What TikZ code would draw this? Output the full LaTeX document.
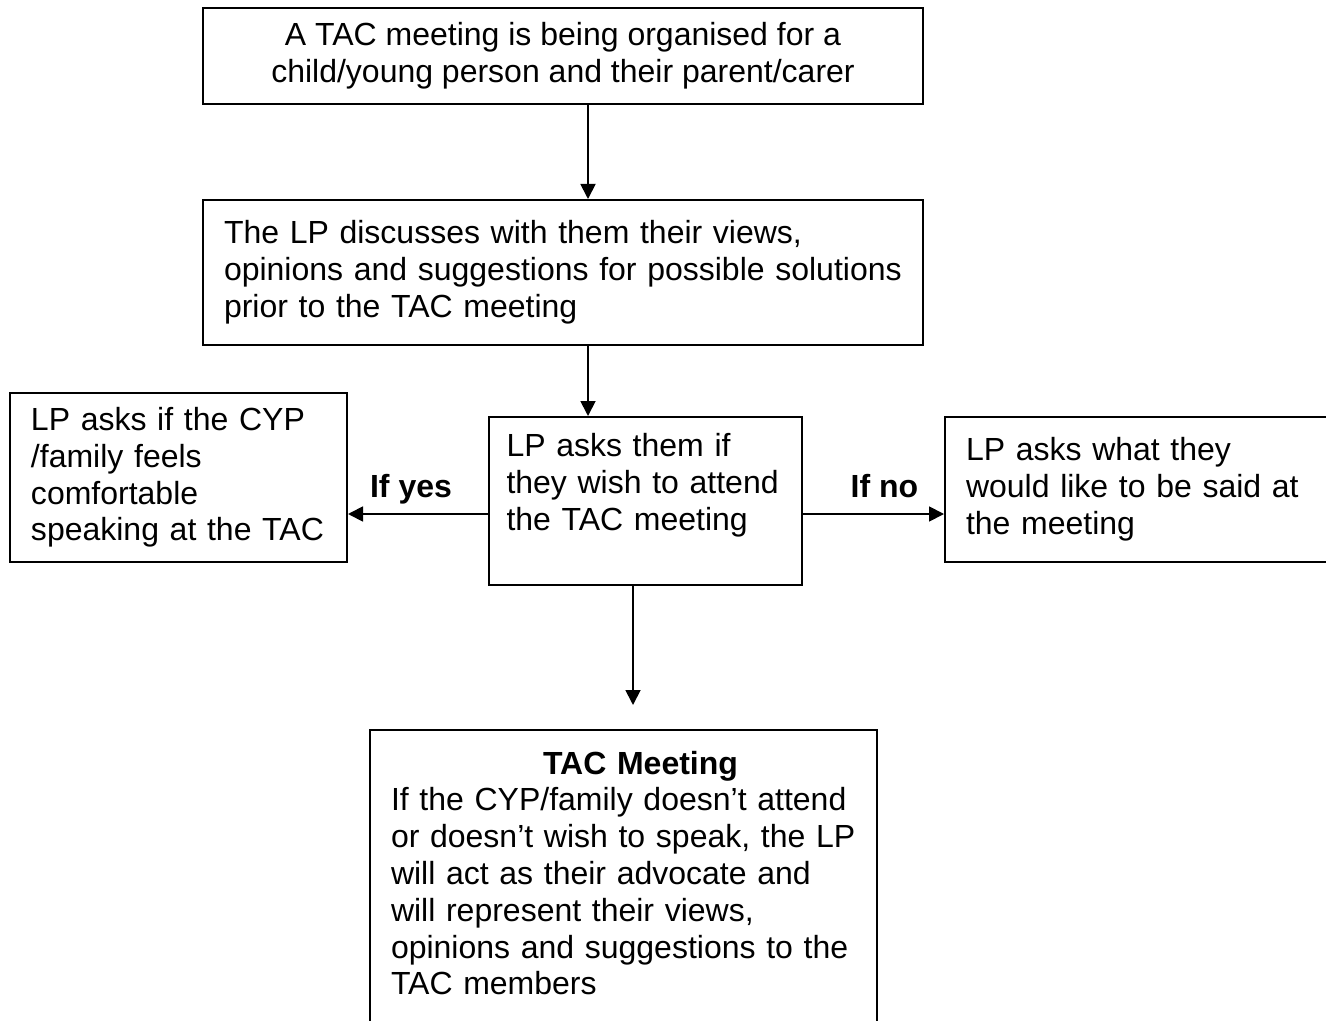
\documentclass[tikz,border=0pt]{standalone}
\usepackage{fontspec}
\setmainfont{Liberation Sans}
\usetikzlibrary{arrows.meta, positioning}

\begin{document}
\begin{tikzpicture}[
        x=0.5pt, y=-0.5pt,
        every node/.style={font=\fontsize{16}{18.4}\selectfont},
        box/.style={draw, line width=1pt, inner xsep=10.5pt, inner ysep=0pt, align=left},
        flow/.style={-{Triangle[length=7.5pt, width=7.5pt]}, line width=0.9pt},
        choice/.style={font=\fontsize{16}{18.4}\selectfont\bfseries, anchor=base, yshift=8.5pt}
    ]
    \useasboundingbox (0,0) rectangle (1326,1021);
    \clip (0,0) rectangle (1326,1021);

    % Before the meeting
    \node[box, align=center, minimum width=360pt, minimum height=48pt] (Organise) at (563,56)
        {A TAC meeting is being organised for a\\child/young person and their parent/carer};
    \node[box, text width=339pt, minimum height=72.5pt] (Discuss) at (563,272.5)
        {The LP discusses with them their views,\\opinions and suggestions for possible solutions\\prior to the TAC meeting};

    % Attend or not
    \node[box, text width=139pt, inner xsep=8.75pt, minimum height=84pt] (Ask) at (645.5,501)
        {LP asks them if\\they wish to attend\\the TAC meeting\rule[-19pt]{0pt}{0pt}};
    \node[box, text width=147.5pt, minimum height=84.5pt] (Speak) at (178.5,477.5)
        {LP asks if the CYP\\/family feels\\comfortable\\speaking at the TAC};
    \node[box, text width=179pt, minimum height=72.5pt] (Said) at (1145,489.5)
        {LP asks what they\\would like to be said at\\the meeting};

    % TAC Meeting
    \node[box, text width=232.5pt, inner ysep=10.5pt, anchor=north] (Meeting) at (623.5,729)
        {\hspace*{76pt}\textbf{TAC Meeting}\\If the CYP/family doesn't attend\\or doesn't wish to speak, the LP\\will act as their advocate and\\will represent their views,\\opinions and suggestions to the\\TAC members\rule[-40pt]{0pt}{0pt}};

    \coordinate (Spine) at (588,0);
    \coordinate (Fork) at (0,514);
    \coordinate (Drop) at (633,0);

    \draw[flow] (Organise.south -| Spine) -- (Discuss.north -| Spine);
    \draw[flow] (Discuss.south -| Spine) -- (Ask.north -| Spine);
    \draw[flow] (Ask.west |- Fork) -- node[choice, xshift=-3.5pt] {If yes} (Speak.east |- Fork);
    \draw[flow] (Ask.east |- Fork) -- node[choice, xshift=5.5pt] {If no} (Said.west |- Fork);
    \draw[flow, shorten >=12pt] (Ask.south -| Drop) -- (Meeting.north -| Drop);

\end{tikzpicture}
\end{document}
